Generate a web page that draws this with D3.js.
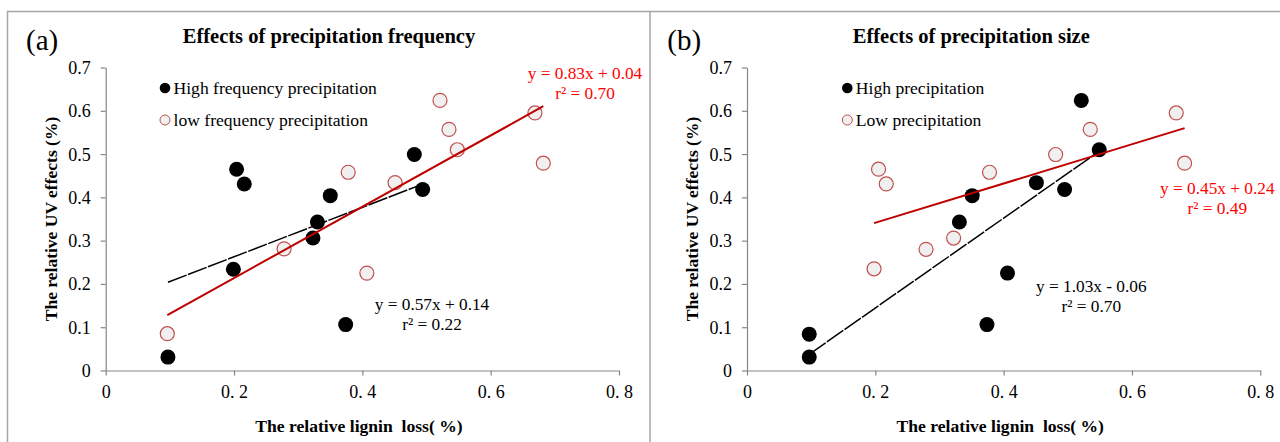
<!DOCTYPE html>
<html>
<head>
<meta charset="utf-8">
<script src="https://cdn.jsdelivr.net/npm/d3@7"></script>
<style>
    body { margin: 0; background: #fff; }
    svg text { font-family: "Liberation Serif", "Times New Roman", serif; }
</style>
</head>
<body>
<div id="chart"></div>
<script>
// axis ticks
const xTicks = [0, 0.2, 0.4, 0.6, 0.8];
const xTickLabels = ['0', '0. 2', '0. 4', '0. 6', '0. 8'];
const yTicks = [0, 0.1, 0.2, 0.3, 0.4, 0.5, 0.6, 0.7];
const yTickLabels = ['0', '0.1', '0.2', '0.3', '0.4', '0.5', '0.6', '0.7'];

// (a) precipitation frequency
const freqHighX = [0.097, 0.199, 0.204, 0.216, 0.323, 0.330, 0.350, 0.374, 0.481, 0.494];
const freqHighY = [0.031, 0.234, 0.465, 0.431, 0.306, 0.343, 0.404, 0.106, 0.499, 0.418];
const freqLowX = [0.096, 0.278, 0.378, 0.407, 0.451, 0.521, 0.535, 0.548, 0.669, 0.682];
const freqLowY = [0.085, 0.281, 0.458, 0.225, 0.434, 0.624, 0.557, 0.510, 0.595, 0.479];
const freqLegend = ['High frequency precipitation', 'low frequency precipitation'];
const freqHighEq = ['y = 0.57x + 0.14', 'r\u00b2 = 0.22'];
const freqLowEq = ['y = 0.83x + 0.04', 'r\u00b2 = 0.70'];

// (b) precipitation size
const sizeHighX = [0.097, 0.097, 0.331, 0.351, 0.374, 0.406, 0.451, 0.495, 0.521, 0.549];
const sizeHighY = [0.084, 0.031, 0.343, 0.404, 0.106, 0.225, 0.434, 0.418, 0.624, 0.510];
const sizeLowX = [0.198, 0.205, 0.217, 0.279, 0.322, 0.378, 0.481, 0.535, 0.669, 0.682];
const sizeLowY = [0.235, 0.465, 0.431, 0.280, 0.306, 0.458, 0.499, 0.557, 0.595, 0.479];
const sizeLegend = ['High precipitation', 'Low precipitation'];
const sizeHighEq = ['y = 1.03x - 0.06', 'r\u00b2 = 0.70'];
const sizeLowEq = ['y = 0.45x + 0.24', 'r\u00b2 = 0.49'];

const W = 1280, H = 442;
const axisGrey = '#868686';
const frameGrey = '#a6a6a6';
const lowStroke = '#c0504d';

const svg = d3.select('#chart').append('svg')
    .attr('width', W)
    .attr('height', H);

// frames round the two panels
svg.append('path')
    .attr('d', 'M7.5,442 V11.5 H1280 M650,11.5 V442')
    .attr('fill', 'none')
    .attr('stroke', frameGrey)
    .attr('stroke-width', 1.5);

// least squares line over the x range of the points
function fit(xs, ys) {
    const mx = d3.mean(xs), my = d3.mean(ys);
    let sxy = 0, sxx = 0;
    for (let i = 0; i < xs.length; i++) {
        sxy += (xs[i] - mx) * (ys[i] - my);
        sxx += (xs[i] - mx) * (xs[i] - mx);
    }
    const slope = sxy / sxx;
    const [x0, x1] = d3.extent(xs);
    return [[x0, my + slope * (x0 - mx)], [x1, my + slope * (x1 - mx)]];
}

function drawPanel(opt) {
    const g = svg.append('g').attr('transform', `translate(${opt.dx},0)`);

    const x = d3.scaleLinear().domain([0, 0.8]).range([105.7, 619]);
    const y = d3.scaleLinear().domain([0, 0.7]).range([370.5, 67.5]);

    // axes
    const xAxis = g.append('g')
        .attr('transform', `translate(0,${y(0)})`)
        .call(d3.axisBottom(x).tickValues(xTicks).tickSize(5).tickSizeOuter(0)
            .tickFormat((d, i) => xTickLabels[i]));
    const yAxis = g.append('g')
        .attr('transform', `translate(${x(0)},0)`)
        .call(d3.axisLeft(y).tickValues(yTicks).tickSize(5).tickSizeOuter(0)
            .tickFormat((d, i) => yTickLabels[i]));
    [xAxis, yAxis].forEach(a => {
        a.attr('font-family', null);
        a.selectAll('path, line').attr('stroke', axisGrey).attr('stroke-width', 1.2);
        a.selectAll('text')
            .attr('fill', '#000')
            .style('font-size', '18px')
            .style('font-family', '"Liberation Serif", serif')
            .style('white-space', 'pre');
    });
    xAxis.selectAll('text').attr('y', 0).attr('dy', '27px');
    yAxis.selectAll('text').attr('x', -15).attr('dy', '0.33em');

    // panel letter and title
    g.append('text')
        .attr('x', 26).attr('y', 50)
        .style('font-size', '29px')
        .text(opt.letter);
    g.append('text')
        .attr('x', opt.titleX).attr('y', 43)
        .attr('text-anchor', 'middle')
        .style('font-size', '20.5px').style('font-weight', 'bold')
        .text(opt.title);

    // axis titles
    g.append('text')
        .attr('x', 359).attr('y', 432)
        .attr('text-anchor', 'middle')
        .style('font-size', '17.6px').style('font-weight', 'bold')
        .style('white-space', 'pre')
        .text('The relative lignin  loss( %)');
    g.append('text')
        .attr('transform', 'translate(57,219) rotate(-90)')
        .attr('text-anchor', 'middle')
        .style('font-size', '17.5px').style('font-weight', 'bold')
        .text('The relative UV effects (%)');

    const line = d3.line().x(d => x(d[0])).y(d => y(d[1]));

    // high trendline (black, long dashes)
    g.append('path')
        .attr('d', line(fit(opt.highX, opt.highY)))
        .attr('fill', 'none')
        .attr('stroke', '#000')
        .attr('stroke-width', 1.5)
        .attr('stroke-dasharray', '20,1.5');

    // low points: grey fill, red rim
    g.append('g').selectAll('circle')
        .data(opt.lowX.map((d, i) => [d, opt.lowY[i]]))
        .join('circle')
        .attr('cx', d => x(d[0]))
        .attr('cy', d => y(d[1]))
        .attr('r', 7)
        .attr('fill', '#f0f0f0')
        .attr('stroke', lowStroke)
        .attr('stroke-width', 1.2);

    // high points: solid black
    g.append('g').selectAll('circle')
        .data(opt.highX.map((d, i) => [d, opt.highY[i]]))
        .join('circle')
        .attr('cx', d => x(d[0]))
        .attr('cy', d => y(d[1]))
        .attr('r', 7.5)
        .attr('fill', '#000');

    // low trendline (dark red)
    g.append('path')
        .attr('d', line(fit(opt.lowX, opt.lowY)))
        .attr('fill', 'none')
        .attr('stroke', '#c00000')
        .attr('stroke-width', 2);

    // legend
    const leg = g.append('g');
    leg.append('circle')
        .attr('cx', opt.legX).attr('cy', 88).attr('r', 5.3).attr('fill', '#000');
    leg.append('circle')
        .attr('cx', opt.legX).attr('cy', 120).attr('r', 5)
        .attr('fill', '#f0f0f0').attr('stroke', lowStroke).attr('stroke-width', 1);
    leg.selectAll('text').data(opt.legend)
        .join('text')
        .attr('x', opt.legX + 8.5)
        .attr('y', (d, i) => 94 + i * 32)
        .style('font-size', '17.6px')
        .text(d => d);

    // equations
    g.append('g').selectAll('text').data(opt.highEq)
        .join('text')
        .attr('x', opt.highEqPos[0])
        .attr('y', (d, i) => opt.highEqPos[1] + i * 20)
        .attr('text-anchor', 'middle')
        .style('font-size', '17.3px')
        .text(d => d);
    g.append('g').selectAll('text').data(opt.lowEq)
        .join('text')
        .attr('x', opt.lowEqPos[0])
        .attr('y', (d, i) => opt.lowEqPos[1] + i * 20)
        .attr('text-anchor', 'middle')
        .attr('fill', '#ff0000')
        .style('font-size', '17.3px')
        .text(d => d);
}

drawPanel({
    dx: 0, letter: '(a)', title: 'Effects of precipitation frequency', titleX: 329,
    highX: freqHighX, highY: freqHighY, lowX: freqLowX, lowY: freqLowY,
    legend: freqLegend, legX: 165,
    highEq: freqHighEq, highEqPos: [432, 310],
    lowEq: freqLowEq, lowEqPos: [585, 79]
});

drawPanel({
    dx: 641.3, letter: '(b)', title: 'Effects of precipitation size', titleX: 330,
    highX: sizeHighX, highY: sizeHighY, lowX: sizeLowX, lowY: sizeLowY,
    legend: sizeLegend, legX: 206,
    highEq: sizeHighEq, highEqPos: [450, 292],
    lowEq: sizeLowEq, lowEqPos: [576, 194]
});
</script>
</body>
</html>
